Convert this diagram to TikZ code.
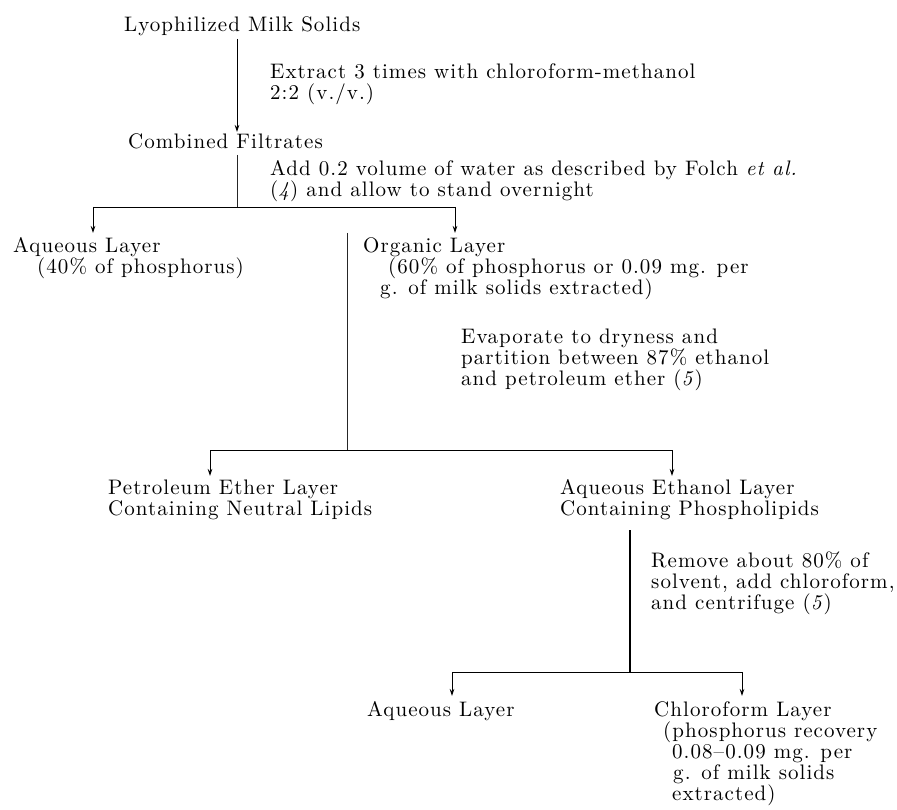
\documentclass[tikz,border=0pt]{standalone}
\usepackage{fontspec}
\setmainfont{lmroman10-regular.otf}[ItalicFont=lmroman10-italic.otf, BoldFont=lmroman10-bold.otf, LetterSpace=5]
\usetikzlibrary{arrows.meta}
\lineskiplimit=-100pt
\newcommand{\fstrut}{\rule{0pt}{16.5pt}}
\newcommand{\diagfont}{\fontsize{21}{21}\selectfont}
\tikzset{
  txt/.style={anchor=north west, inner sep=0pt, align=left, font=\diagfont},
  ln/.style={line width=0.8pt, black},
  thinln/.style={line width=0.55pt, black!85},
  arr/.style={line width=0.8pt, -{Stealth[length=7pt,width=4.5pt]}},
}
\begin{document}
\begin{tikzpicture}[x=1pt,y=-1pt]
\useasboundingbox[fill=white] (0,0) rectangle (897,810);

% text nodes (placed at first baseline - 16.5)
\node[txt] (milk) at (124,14.5) {\fstrut Lyophilized Milk Solids};
\node[txt] (extract) at (270,61.5) {\fstrut Extract 3 times with chloroform-methanol\\2:2 (v./v.)};
\node[txt] (comb) at (128,131.5) {\fstrut Combined Filtrates};
\node[txt] (add) at (270,158.5) {\fstrut Add 0.2 volume of water as described by Folch \textit{et al.}\\(\textit{4}) and allow to stand overnight};
\node[txt] (aq1) at (13,235.5) {\fstrut Aqueous Layer\\\hspace*{24pt}(40\% of phosphorus)};
\node[txt] (org) at (363,235.5) {\fstrut Organic Layer\\\hspace*{25pt}(60\% of phosphorus or 0.09 mg. per\\\hspace*{17pt}g. of milk solids extracted)};
\node[txt] (evap) at (461,326.5) {\fstrut Evaporate to dryness and\\partition between 87\% ethanol\\and petroleum ether (\textit{5})};
\node[txt] (pet) at (108,477.5) {\fstrut Petroleum Ether Layer\\Containing Neutral Lipids};
\node[txt] (eth) at (560,477.5) {\fstrut Aqueous Ethanol Layer\\Containing Phospholipids};
\node[txt] (remove) at (651,550.5) {\fstrut Remove about 80\% of\\solvent, add chloroform,\\and centrifuge (\textit{5})};
\node[txt] (aq2) at (367,699.5) {\fstrut Aqueous Layer};
\node[txt] (chl) at (654,699.5) {\fstrut Chloroform Layer\\\hspace*{9pt}(phosphorus recovery\\\hspace*{18pt}0.08--0.09 mg. per\\\hspace*{19pt}g. of milk solids\\\hspace*{18pt}extracted)};

% junction coordinates
\coordinate (v1s) at (237,39);
\coordinate (v1e) at (237,132);
\coordinate (v2s) at (237,155);
\coordinate (j1) at (237,207);
\coordinate (h1l) at (93,207);
\coordinate (h1r) at (455,207);
\coordinate (t1l) at (93,233);
\coordinate (t1r) at (455,233);
\coordinate (v3s) at (347,233);
\coordinate (j2) at (347,450);
\coordinate (h2l) at (210,450);
\coordinate (h2r) at (672,450);
\coordinate (t2l) at (210,476);
\coordinate (t2r) at (672,476);
\coordinate (v4s) at (630,530);
\coordinate (j3) at (630,672);
\coordinate (h3l) at (452,672);
\coordinate (h3r) at (742,672);
\coordinate (t3l) at (452,696);
\coordinate (t3r) at (742,696);

% connectors
\draw[arr] (v1s) -- (v1e);
\draw[thinln] (v2s) -- (j1);
\draw[ln] (h1l) -- (h1r);
\draw[arr] (h1l) -- (t1l);
\draw[arr] (h1r) -- (t1r);
\draw[thinln] (v3s) -- (j2);
\draw[ln] (h2l) -- (h2r);
\draw[arr] (h2l) -- (t2l);
\draw[arr] (h2r) -- (t2r);
\draw[line width=1.3pt] (v4s) -- (j3);
\draw[ln] (h3l) -- (h3r);
\draw[arr] (h3l) -- (t3l);
\draw[arr] (h3r) -- (t3r);
\end{tikzpicture}
\end{document}
